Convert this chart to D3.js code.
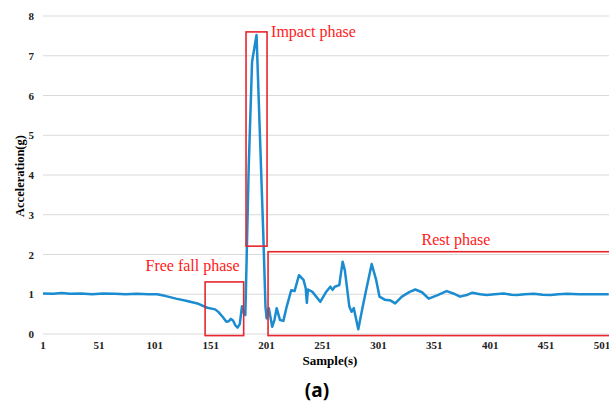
<!DOCTYPE html>
<html lang="en">
  <head>
    <meta charset="UTF-8" />
    <title>Acceleration</title>
    <script src="https://d3js.org/d3.v7.min.js"></script>
    <style>
      body {
        margin: 0;
        background: #fff;
      }
      svg text {
        font-family: 'Liberation Serif', 'Times New Roman', serif;
      }
      .tick-label {
        font-size: 11px;
        font-weight: bold;
        fill: #222;
      }
      .phase-label {
        font-size: 16px;
        fill: #ff1a1a;
      }
    </style>
  </head>
  <body>
    <div id="chart"></div>
    <script>
      // sample index and acceleration (g)
      const sampleIdx = [
        1, 10, 18, 25, 35, 45, 55, 65, 75, 85, 95, 103, 110, 120, 130, 140,
        148, 155, 158, 162, 165, 167, 169, 171, 173, 175, 177, 179, 181, 182,
        185, 188, 192, 198, 200, 201, 203, 206, 208, 210, 213, 216, 219, 223,
        226, 230, 234, 236, 237, 238, 242, 249, 254, 258, 260, 262, 266, 269,
        271, 273, 275, 277, 279, 283, 287, 290, 295, 299, 302, 307, 312, 316,
        322, 329, 334, 340, 346, 354, 362, 368, 374, 380, 385, 392, 398, 405,
        413, 420, 425, 432, 440, 448, 455, 462, 470, 480, 490, 500, 507,
      ];
      const accel = [
        1.02, 1.01, 1.03, 1.01, 1.02, 1.0, 1.02, 1.01, 1.0, 1.01, 1.0, 1.0,
        0.96, 0.89, 0.83, 0.76, 0.66, 0.62, 0.55, 0.42, 0.31, 0.32, 0.38,
        0.34, 0.22, 0.16, 0.25, 0.7, 0.5, 0.48, 4.2, 6.85, 7.52, 2.54, 0.69,
        0.39, 0.65, 0.18, 0.35, 0.65, 0.35, 0.33, 0.69, 1.1, 1.08, 1.48,
        1.36, 1.15, 0.78, 1.12, 1.06, 0.81, 1.05, 1.19, 1.11, 1.19, 1.23,
        1.82, 1.6, 1.15, 0.69, 0.56, 0.65, 0.12, 0.69, 1.1, 1.76, 1.36, 0.94,
        0.86, 0.84, 0.77, 0.94, 1.06, 1.12, 1.05, 0.89, 0.98, 1.08, 1.02,
        0.94, 0.98, 1.04, 1.0, 0.98, 1.0, 1.02, 0.99, 0.98, 1.0, 1.01, 0.99,
        0.98, 1.0, 1.01, 1.0, 1.0, 1.0, 1.0,
      ];
      const xTicks = [1, 51, 101, 151, 201, 251, 301, 351, 401, 451, 501];
      const yTicks = [0, 1, 2, 3, 4, 5, 6, 7, 8];

      // phase boxes: [sample from, sample to, g low, g high]
      const phaseNames = ['Free fall phase', 'Impact phase', 'Rest phase'];
      const phaseBoxes = [
        [146, 180.5, -0.04, 1.31],
        [182.6, 201.4, 2.21, 7.6],
        [202.3, 515, -0.04, 2.07],
      ];

      const width = 609;
      const height = 405;

      const svg = d3
        .select('#chart')
        .append('svg')
        .attr('width', width)
        .attr('height', height);

      const x = d3.scaleLinear().domain([1, 501]).range([43, 602]);
      const y = d3.scaleLinear().domain([0, 8]).range([334, 16]);

      // gridlines
      svg
        .selectAll('.grid')
        .data(yTicks)
        .join('line')
        .attr('class', 'grid')
        .attr('x1', x(1))
        .attr('x2', width)
        .attr('y1', (d) => y(d))
        .attr('y2', (d) => y(d))
        .attr('stroke', '#d9d9d9')
        .attr('stroke-width', 1.2);

      // tick labels
      svg
        .selectAll('.ytick')
        .data(yTicks)
        .join('text')
        .attr('class', 'tick-label')
        .attr('x', 34)
        .attr('y', (d) => y(d) + 4)
        .attr('text-anchor', 'end')
        .text((d) => d);

      svg
        .selectAll('.xtick')
        .data(xTicks)
        .join('text')
        .attr('class', 'tick-label')
        .attr('x', (d) => x(d))
        .attr('y', 349)
        .attr('text-anchor', 'middle')
        .text((d) => d);

      // axis titles
      svg
        .append('text')
        .attr('transform', 'translate(24,176) rotate(-90)')
        .attr('text-anchor', 'middle')
        .style('font-size', '12.5px')
        .style('font-weight', 'bold')
        .text('Acceleration(g)');

      svg
        .append('text')
        .attr('x', 330)
        .attr('y', 365)
        .attr('text-anchor', 'middle')
        .style('font-size', '13px')
        .style('font-weight', 'bold')
        .text('Sample(s)');

      svg
        .append('text')
        .attr('x', 317)
        .attr('y', 397)
        .attr('text-anchor', 'middle')
        .style('font-family', "'Noto Sans', sans-serif")
        .style('font-size', '19px')
        .style('font-weight', 'bold')
        .text('(a)');

      // data line
      const points = sampleIdx.map((s, i) => [s, accel[i]]);
      const line = d3
        .line()
        .x((d) => x(d[0]))
        .y((d) => y(d[1]));

      svg
        .append('path')
        .datum(points)
        .attr('d', line)
        .attr('fill', 'none')
        .attr('stroke', '#1a8ccf')
        .attr('stroke-width', 2.5)
        .attr('stroke-linejoin', 'round');

      // phase boxes
      svg
        .selectAll('.phase-box')
        .data(phaseBoxes)
        .join('rect')
        .attr('class', 'phase-box')
        .attr('x', (d) => x(d[0]))
        .attr('y', (d) => y(d[3]))
        .attr('width', (d) => x(d[1]) - x(d[0]))
        .attr('height', (d) => y(d[2]) - y(d[3]))
        .attr('fill', 'none')
        .attr('stroke', '#e8262d')
        .attr('stroke-width', 1.6);

      // phase labels
      svg
        .append('text')
        .attr('class', 'phase-label')
        .attr('x', x(phaseBoxes[0][1]) - 4)
        .attr('y', 271)
        .attr('text-anchor', 'end')
        .text(phaseNames[0]);

      svg
        .append('text')
        .attr('class', 'phase-label')
        .attr('x', x(phaseBoxes[1][1]) + 4)
        .attr('y', 37)
        .text(phaseNames[1]);

      svg
        .append('text')
        .attr('class', 'phase-label')
        .attr('x', 456)
        .attr('y', 245)
        .attr('text-anchor', 'middle')
        .text(phaseNames[2]);
    </script>
  </body>
</html>
